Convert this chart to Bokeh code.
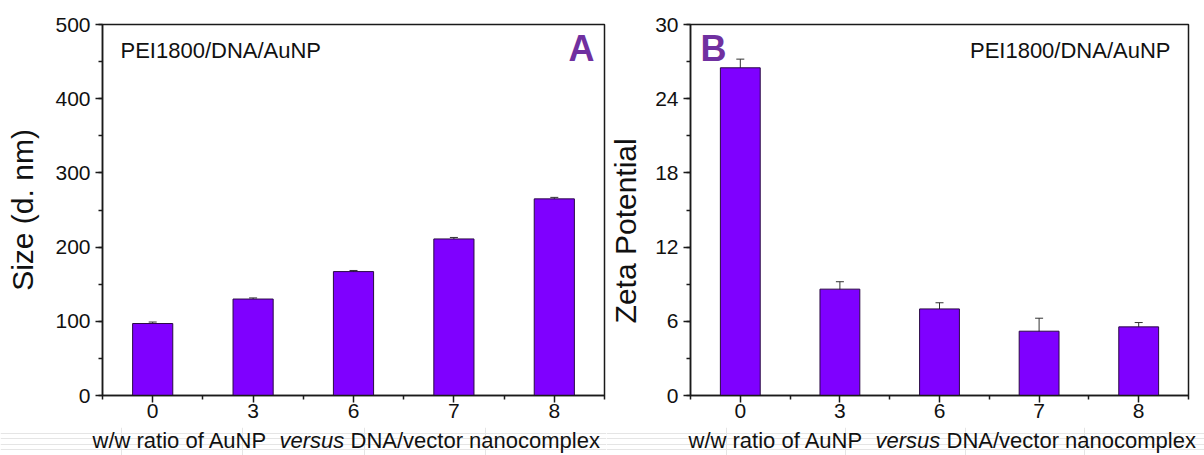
from bokeh.plotting import figure
from bokeh.models import (ColumnDataSource, Whisker, TeeHead, Label, Range1d,
                          FixedTicker, SingleIntervalTicker)
from bokeh.layouts import row, column
from bokeh.embed import file_html
from bokeh.resources import INLINE

# ---- data ----
ratios = ["0", "3", "6", "7", "8"]
size_nm = [97, 130, 167, 211, 265]
size_err = [2.0, 1.5, 1.5, 2.0, 2.0]
zeta_mv = [26.5, 8.6, 7.0, 5.2, 5.55]
zeta_err = [0.7, 0.6, 0.5, 1.05, 0.35]
size_ticks = [0, 100, 200, 300, 400, 500]
zeta_ticks = [0, 6, 12, 18, 24, 30]
sample_label = "PEI1800/DNA/AuNP"
xlabel_parts = ["w/w ratio of AuNP", "versus", "DNA/vector nanocomplex"]
panel_letters = ["A", "B"]
y_titles = ["Size (d. nm)", "Zeta Potential"]

FONT = "Liberation Sans"
BAR = "#7F00FF"
BAR_LINE = "#2a0a45"
AX = "#1a1a1a"
LETTER = "#7030A0"
TOP_H = 427
TEXT_H = 28
FRAME_TOP = 24
FRAME_H = 371
NBSP = "\u00a0"


def make_panel(vals, errs, yticks, ytitle, letter, width, bl, br, title_standoff,
               letter_x, letter_left, sample_x, sample_right):
    xs = list(range(len(ratios)))
    src = ColumnDataSource(dict(
        x=xs, top=vals,
        upper=[v + e for v, e in zip(vals, errs)],
        lower=[v - e for v, e in zip(vals, errs)],
    ))
    p = figure(width=width, height=TOP_H,
               x_range=Range1d(-0.5, len(ratios) - 0.5),
               y_range=Range1d(yticks[0], yticks[-1]),
               output_backend="svg", toolbar_location=None,
               min_border_left=bl, min_border_right=br,
               min_border_top=FRAME_TOP,
               min_border_bottom=TOP_H - FRAME_TOP - FRAME_H)
    p.xgrid.visible = False
    p.ygrid.visible = False
    p.outline_line_color = AX
    p.outline_line_width = 1.5
    p.outline_line_alpha = 1.0
    p.background_fill_color = "white"
    p.border_fill_color = "white"

    p.vbar(x="x", top="top", bottom=0, width=0.4, source=src,
           fill_color=BAR, line_color=BAR_LINE, line_width=1)
    wh = Whisker(base="x", upper="upper", lower="lower", source=src,
                 line_color="#333333", line_width=1,
                 upper_head=TeeHead(size=8, line_color="#333333", line_width=1),
                 lower_head=TeeHead(size=8, line_color="#333333", line_width=1))
    p.add_layout(wh)

    for ax in (p.xaxis[0], p.yaxis[0]):
        ax.axis_line_color = AX
        ax.axis_line_width = 1.5
        ax.major_tick_line_color = AX
        ax.major_tick_line_width = 1.5
        ax.minor_tick_line_color = AX
        ax.minor_tick_line_width = 1.5
        ax.major_tick_in = 0
        ax.major_tick_out = 7
        ax.minor_tick_in = 0
        ax.minor_tick_out = 4
        ax.major_label_text_font = FONT
        ax.major_label_text_font_size = "21px"
        ax.major_label_text_color = "#111111"

    p.xaxis.ticker = FixedTicker(ticks=xs,
                                 minor_ticks=[i - 0.5 for i in range(len(ratios) + 1)])
    p.xaxis.major_label_overrides = {i: r for i, r in enumerate(ratios)}
    p.xaxis.major_label_standoff = 1

    p.yaxis.ticker = SingleIntervalTicker(interval=yticks[1] - yticks[0],
                                          num_minor_ticks=2)
    p.yaxis.major_label_standoff = 5
    p.yaxis.axis_label = ytitle
    p.yaxis.axis_label_text_font = FONT
    p.yaxis.axis_label_text_font_size = "30px"
    p.yaxis.axis_label_text_font_style = "normal"
    p.yaxis.axis_label_text_color = "#111111"
    p.yaxis.axis_label_standoff = title_standoff

    # sample name (baseline ~34 px below the frame top)
    p.add_layout(Label(x=sample_x, y=FRAME_H - 26, x_units="screen", y_units="screen",
                       text=sample_label, text_font=FONT, text_font_size="22px",
                       text_color="#111111",
                       text_align="right" if sample_right else "left",
                       text_baseline="alphabetic"))
    # panel letter
    p.add_layout(Label(x=letter_x, y=FRAME_H - 24, x_units="screen", y_units="screen",
                       text=letter, text_font=FONT, text_font_size="36px",
                       text_font_style="bold", text_color=LETTER,
                       text_align="left" if letter_left else "right",
                       text_baseline="alphabetic"))
    return p


def make_xtitle(width, start):
    t = figure(width=width, height=TEXT_H, x_range=Range1d(0, 1), y_range=Range1d(0, 1),
               output_backend="svg", toolbar_location=None, min_border=0,
               x_axis_location=None, y_axis_location=None)
    t.outline_line_color = None
    t.background_fill_color = "white"
    t.border_fill_color = "white"
    offs = [0, 187, 258]
    styles = ["normal", "italic", "normal"]
    for part, off, st in zip(xlabel_parts, offs, styles):
        t.add_layout(Label(x=start + off, y=15, x_units="screen", y_units="screen",
                           text=part, text_font=FONT, text_font_size="22px",
                           text_font_style=st, text_color="#111111",
                           text_align="left", text_baseline="alphabetic"))
    return t


pA = make_panel(size_nm, size_err, size_ticks, y_titles[0], panel_letters[0],
                606, 102, 2, 13, letter_x=492, letter_left=False,
                sample_x=18, sample_right=False)
pB = make_panel(zeta_mv, zeta_err, zeta_ticks, y_titles[1] + NBSP * 5, panel_letters[1],
                598, 82, 16, 10, letter_x=10, letter_left=True,
                sample_x=480, sample_right=True)
tA = make_xtitle(606, 92)
tB = make_xtitle(598, 82)

layout = column(row(pA, pB), row(tA, tB))
open("out.html", "w").write(file_html(layout, INLINE))
